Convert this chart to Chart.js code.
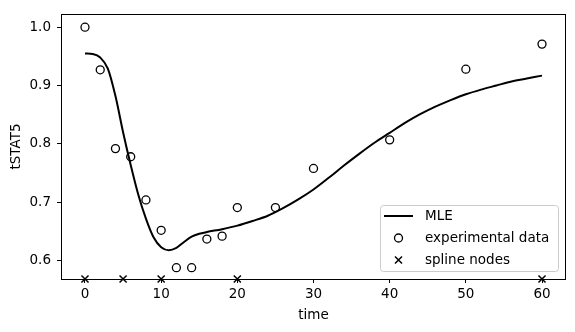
<!DOCTYPE html>
<html>
<head>
<meta charset="utf-8">
<script src="https://cdn.jsdelivr.net/npm/chart.js@4.4.0/dist/chart.umd.min.js"></script>
<style>
  html, body { margin: 0; padding: 0; background: #fff; }
  #wrap { width: 575px; height: 332px; }
</style>
</head>
<body>
<div id="wrap"><canvas id="chart" width="575" height="332"></canvas></div>
<script>
// Values

// experimental data (open circles)
const timePoints = [0, 2, 4, 6, 8, 10, 12, 14, 16, 18, 20, 25, 30, 40, 50, 60];
const tstat5Values = [1.000, 0.927, 0.792, 0.778, 0.704, 0.652, 0.588, 0.588, 0.637, 0.642, 0.691, 0.691, 0.758, 0.807, 0.928, 0.971];

// MLE curve
const mleTimes = [0, 1, 2, 3, 4, 5, 6, 7, 8, 9, 10, 11, 12, 13, 14, 15, 16, 18, 20, 22, 24, 26, 28, 30, 32, 34, 36, 38, 40, 42, 44, 46, 48, 50, 52, 54, 56, 58, 60];
const mleValues = [0.955, 0.954, 0.948, 0.929, 0.882, 0.820, 0.764, 0.713, 0.672, 0.640, 0.623, 0.618, 0.622, 0.632, 0.641, 0.646, 0.649, 0.654, 0.660, 0.668, 0.677, 0.690, 0.705, 0.722, 0.742, 0.763, 0.783, 0.802, 0.819, 0.836, 0.851, 0.864, 0.875, 0.885, 0.893, 0.900, 0.907, 0.912, 0.917];

// spline nodes sit on the bottom of the axes
const splineNodeTimes = [0, 5, 10, 20, 60];

// axis limits and ticks
const xLimits = [-3.15, 63.15];
const yLimits = [0.5686, 1.0224];
const xTicks = [0, 10, 20, 30, 40, 50, 60];
const yTicks = [0.6, 0.7, 0.8, 0.9, 1.0];

const FONT = 'DejaVu Sans';
const FONT_SIZE = 13.5;

function toPoints(xs, ys) {
    return xs.map((x, i) => ({ x: x, y: ys[i] }));
}

// frame, axis titles and the in-plot legend, drawn like matplotlib
const matplotlibBits = {
    id: 'matplotlibBits',
    afterDraw(chart) {
        const ctx = chart.ctx;
        const a = chart.chartArea;
        ctx.save();

        // axes frame
        ctx.strokeStyle = '#000';
        ctx.lineWidth = 1;
        ctx.strokeRect(Math.round(a.left) + 0.5, Math.round(a.top) + 0.5,
            Math.round(a.right - a.left) - 1, Math.round(a.bottom - a.top));

        // axis titles
        ctx.fillStyle = '#000';
        ctx.font = FONT_SIZE + 'px "' + FONT + '"';
        ctx.textAlign = 'center';
        ctx.textBaseline = 'middle';
        ctx.fillText('time', (a.left + a.right) / 2, 315);
        ctx.save();
        ctx.translate(16, (a.top + a.bottom) / 2);
        ctx.rotate(-Math.PI / 2);
        ctx.fillText('tSTAT5', 0, 0);
        ctx.restore();

        // legend box
        const bx = 380.5, by = 205.5, bw = 178, bh = 66;
        ctx.beginPath();
        ctx.roundRect(bx, by, bw, bh, 3);
        ctx.fillStyle = 'rgba(255,255,255,0.8)';
        ctx.fill();
        ctx.strokeStyle = '#cccccc';
        ctx.stroke();

        const rows = [216, 238, 260];
        const handleX = 398.5;
        ctx.strokeStyle = '#000';
        ctx.fillStyle = '#000';

        // MLE line handle
        ctx.lineWidth = 2;
        ctx.beginPath();
        ctx.moveTo(384, rows[0]);
        ctx.lineTo(413, rows[0]);
        ctx.stroke();

        // circle handle
        ctx.lineWidth = 1.3;
        ctx.beginPath();
        ctx.arc(handleX, rows[1], 4, 0, Math.PI * 2);
        ctx.stroke();

        // x handle
        ctx.lineWidth = 1.5;
        ctx.beginPath();
        ctx.moveTo(handleX - 3.5, rows[2] - 3.5);
        ctx.lineTo(handleX + 3.5, rows[2] + 3.5);
        ctx.moveTo(handleX - 3.5, rows[2] + 3.5);
        ctx.lineTo(handleX + 3.5, rows[2] - 3.5);
        ctx.stroke();

        ctx.textAlign = 'left';
        ctx.fillText('MLE', 425, rows[0]);
        ctx.fillText('experimental data', 425, rows[1]);
        ctx.fillText('spline nodes', 425, rows[2]);

        ctx.restore();
    }
};

const ctx = document.getElementById('chart').getContext('2d');

new Chart(ctx, {
    type: 'scatter',
    data: {
        datasets: [
            {
                label: 'MLE',
                type: 'line',
                data: toPoints(mleTimes, mleValues),
                borderColor: '#000',
                borderWidth: 2,
                pointRadius: 0,
                fill: false,
                cubicInterpolationMode: 'monotone'
            },
            {
                label: 'experimental data',
                data: toPoints(timePoints, tstat5Values),
                pointStyle: 'circle',
                pointRadius: 4,
                borderColor: '#000',
                backgroundColor: 'rgba(0,0,0,0)',
                borderWidth: 1.3
            },
            {
                label: 'spline nodes',
                data: splineNodeTimes.map(t => ({ x: t, y: yLimits[0] })),
                pointStyle: 'crossRot',
                pointRadius: 5,
                borderColor: '#000',
                borderWidth: 1.5,
                clip: false
            }
        ]
    },
    options: {
        responsive: false,
        animation: false,
        layout: {
            padding: { left: 0, right: 9, top: 9, bottom: 0 }
        },
        plugins: {
            legend: { display: false },
            tooltip: { enabled: false }
        },
        scales: {
            x: {
                type: 'linear',
                min: xLimits[0],
                max: xLimits[1],
                afterBuildTicks: scale => { scale.ticks = xTicks.map(v => ({ value: v })); },
                afterFit: scale => { scale.height = 53; },
                grid: {
                    display: true,
                    drawOnChartArea: false,
                    drawTicks: true,
                    tickLength: 4,
                    color: '#000'
                },
                border: { display: false },
                ticks: {
                    color: '#000',
                    padding: 3,
                    maxRotation: 0,
                    font: { family: FONT, size: FONT_SIZE },
                    callback: v => String(v)
                }
            },
            y: {
                type: 'linear',
                min: yLimits[0],
                max: yLimits[1],
                afterBuildTicks: scale => { scale.ticks = yTicks.map(v => ({ value: v })); },
                afterFit: scale => { scale.width = 61; },
                grid: {
                    display: true,
                    drawOnChartArea: false,
                    drawTicks: true,
                    tickLength: 4,
                    color: '#000'
                },
                border: { display: false },
                ticks: {
                    color: '#000',
                    padding: 6,
                    font: { family: FONT, size: FONT_SIZE },
                    callback: v => v.toFixed(1)
                }
            }
        }
    },
    plugins: [matplotlibBits]
});
</script>
</body>
</html>
